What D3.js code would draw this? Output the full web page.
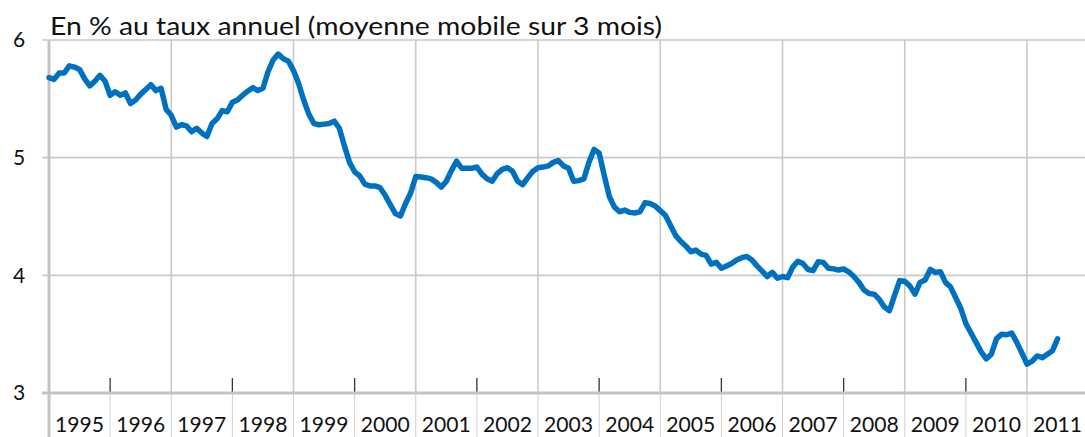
<!DOCTYPE html>
<html>
<head>
<meta charset="utf-8">
<script src="https://cdn.jsdelivr.net/npm/d3@7"></script>
<style>
  html, body { margin: 0; padding: 0; background: #fff; }
  svg { display: block; }
  text { font-family: Lato, "Open Sans", sans-serif; fill: #111; }
</style>
</head>
<body>
<svg id="chart" width="1085" height="437"></svg>
<script>
// ---- Data (monthly, 3-month moving average, % annual rate) ----
const startYear = 1995;
const startMonth = 0; // January
const values = [
  // 1995
  5.68, 5.665, 5.72, 5.72, 5.78, 5.77, 5.75, 5.67, 5.61, 5.65, 5.70, 5.65,
  // 1996
  5.53, 5.56, 5.53, 5.55, 5.46, 5.49, 5.54, 5.58, 5.62, 5.57, 5.59, 5.41,
  // 1997
  5.36, 5.26, 5.28, 5.27, 5.22, 5.25, 5.21, 5.18, 5.29, 5.33, 5.40, 5.39,
  // 1998
  5.47, 5.49, 5.53, 5.565, 5.595, 5.57, 5.59, 5.73, 5.83, 5.88, 5.84, 5.82,
  // 1999
  5.74, 5.63, 5.49, 5.37, 5.29, 5.28, 5.285, 5.29, 5.31, 5.25, 5.10, 4.96,
  // 2000
  4.88, 4.845, 4.775, 4.76, 4.76, 4.745, 4.68, 4.60, 4.525, 4.505, 4.61, 4.70,
  // 2001
  4.84, 4.835, 4.83, 4.82, 4.79, 4.75, 4.80, 4.89, 4.97, 4.91, 4.91, 4.91,
  // 2002
  4.92, 4.86, 4.82, 4.80, 4.865, 4.90, 4.915, 4.885, 4.80, 4.77, 4.83, 4.885,
  // 2003
  4.915, 4.92, 4.93, 4.96, 4.975, 4.93, 4.91, 4.80, 4.805, 4.82, 4.96, 5.07,
  // 2004
  5.04, 4.85, 4.67, 4.58, 4.54, 4.555, 4.535, 4.53, 4.54, 4.617, 4.61, 4.59,
  // 2005
  4.55, 4.51, 4.425, 4.34, 4.29, 4.25, 4.20, 4.215, 4.18, 4.17, 4.095, 4.11,
  // 2006
  4.06, 4.08, 4.10, 4.13, 4.15, 4.16, 4.13, 4.08, 4.035, 3.99, 4.025, 3.975,
  // 2007
  3.99, 3.98, 4.07, 4.12, 4.10, 4.05, 4.04, 4.115, 4.11, 4.06, 4.055, 4.045,
  // 2008
  4.054, 4.03, 3.99, 3.94, 3.875, 3.845, 3.84, 3.795, 3.73, 3.70, 3.83, 3.955,
  // 2009
  3.95, 3.91, 3.84, 3.94, 3.96, 4.05, 4.025, 4.03, 3.94, 3.90, 3.81, 3.72,
  // 2010
  3.59, 3.51, 3.43, 3.35, 3.29, 3.33, 3.46, 3.50, 3.495, 3.51, 3.43, 3.34,
  // 2011
  3.245, 3.27, 3.315, 3.30, 3.33, 3.36, 3.46
];
const yearLabels = ["1995","1996","1997","1998","1999","2000","2001","2002","2003",
                    "2004","2005","2006","2007","2008","2009","2010","2011"];
const yTicks = [3, 4, 5, 6];
const subtitle = "En % au taux annuel (moyenne mobile sur 3 mois)";

(function () {
// ---- Layout ----
const svg = d3.select("#chart");
const mLeft = 49, mRight = 1085, mTop = 40, mBottom = 393;

const x = d3.scaleLinear()
  .domain([1995, 2011])
  .range([mLeft, 1027]);
const y = d3.scaleLinear()
  .domain([3, 6])
  .range([mBottom, mTop]);

const data = values.map((v, i) => ({ t: startYear + (startMonth + i) / 12, v }));

// horizontal gridlines + left tick stubs
svg.append("g").selectAll("line")
  .data(yTicks.filter(d => d !== 3))
  .join("line")
  .attr("x1", 42).attr("x2", mRight)
  .attr("y1", d => y(d)).attr("y2", d => y(d))
  .attr("stroke", "#c9c9c9").attr("stroke-width", 1.6);

// vertical gridlines at odd years (1997, 1999, ... 2011)
const years = yearLabels.map(Number);
svg.append("g").selectAll("line")
  .data(years.filter(yr => yr > 1995 && (yr - 1995) % 2 === 0))
  .join("line")
  .attr("x1", d => x(d)).attr("x2", d => x(d))
  .attr("y1", mTop).attr("y2", mBottom)
  .attr("stroke", "#c9c9c9").attr("stroke-width", 1.6);

// separators below the axis at every year boundary
svg.append("g").selectAll("line")
  .data(years)
  .join("line")
  .attr("x1", d => x(d)).attr("x2", d => x(d))
  .attr("y1", mBottom).attr("y2", 437)
  .attr("stroke", "#d0d0d0").attr("stroke-width", 1);

// dark ticks at even years (inside plot)
svg.append("g").selectAll("line")
  .data(years.filter(yr => (yr - 1995) % 2 === 1))
  .join("line")
  .attr("x1", d => x(d)).attr("x2", d => x(d))
  .attr("y1", mBottom - 15).attr("y2", mBottom)
  .attr("stroke", "#333").attr("stroke-width", 1.3);

// y axis line
svg.append("line")
  .attr("x1", mLeft).attr("x2", mLeft)
  .attr("y1", mTop).attr("y2", 437)
  .attr("stroke", "#c4c4c4").attr("stroke-width", 3);

// x axis line
svg.append("line")
  .attr("x1", 42).attr("x2", mRight)
  .attr("y1", mBottom).attr("y2", mBottom)
  .attr("stroke", "#c4c4c4").attr("stroke-width", 3);

// y tick labels
svg.append("g").selectAll("text")
  .data(yTicks)
  .join("text")
  .attr("x", 19).attr("y", d => y(d))
  .attr("dy", "0.35em")
  .attr("text-anchor", "middle")
  .attr("font-size", 21)
  .text(d => d);

// x labels centered within each year
svg.append("g").selectAll("text")
  .data(yearLabels)
  .join("text")
  .attr("x", d => x(+d + 0.5))
  .attr("y", 432)
  .attr("text-anchor", "middle")
  .attr("font-size", 21)
  .attr("textLength", 49)
  .attr("lengthAdjust", "spacingAndGlyphs")
  .text(d => d);

// subtitle
svg.append("text")
  .attr("x", 50).attr("y", 35)
  .attr("font-size", 25)
  .attr("textLength", 612)
  .attr("lengthAdjust", "spacingAndGlyphs")
  .text(subtitle);

// series line
const line = d3.line()
  .x(d => x(d.t))
  .y(d => y(d.v));
svg.append("path")
  .datum(data)
  .attr("fill", "none")
  .attr("stroke", "#0070c0")
  .attr("stroke-width", 5.5)
  .attr("stroke-linejoin", "round")
  .attr("stroke-linecap", "round")
  .attr("d", line);
})();
</script>
</body>
</html>
